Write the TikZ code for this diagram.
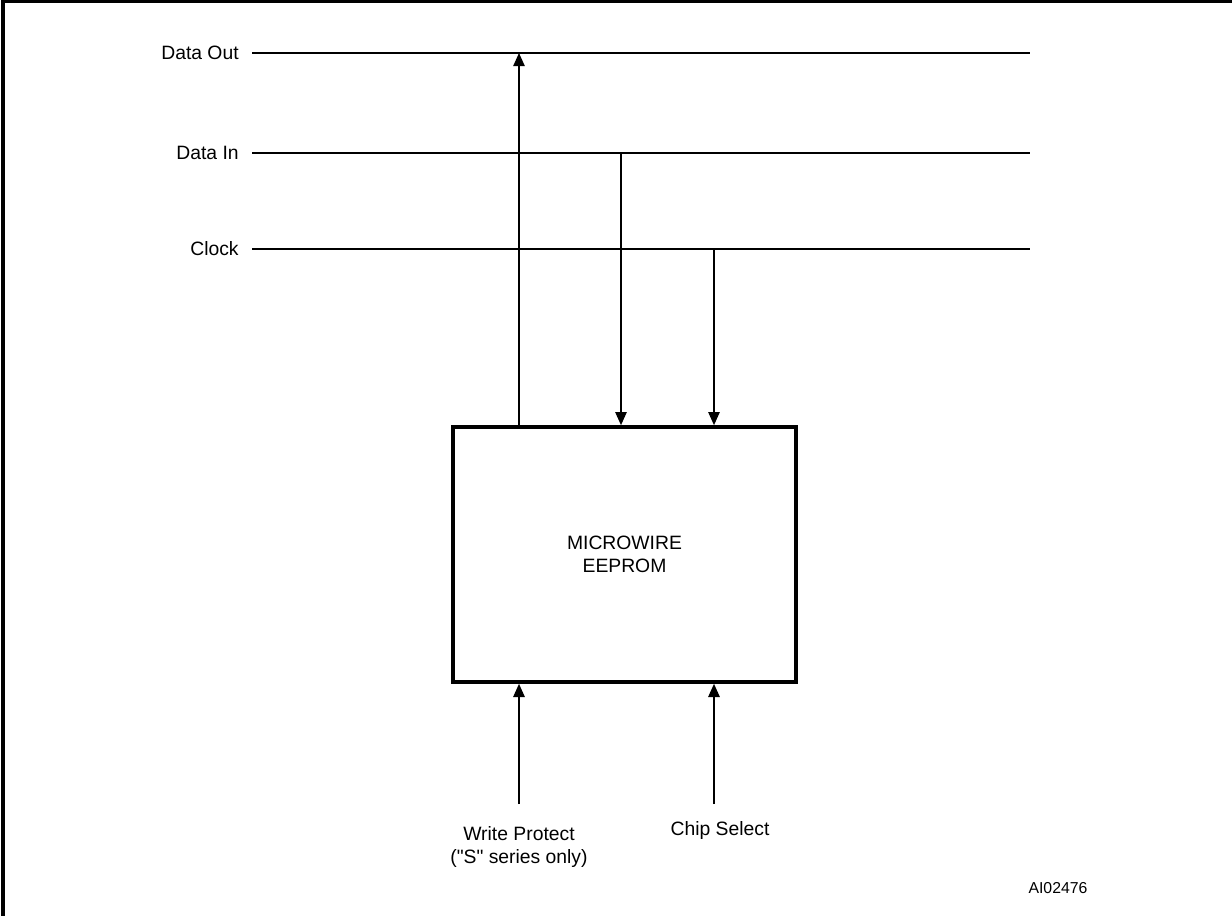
\documentclass[tikz,border=0pt]{standalone}
\usepackage{fontspec}
\setmainfont{Liberation Sans}
\usetikzlibrary{arrows.meta}
\begin{document}
\begin{tikzpicture}[x=0.02cm, y=-0.02cm, font=\fontsize{11}{13}\selectfont,
    wire/.style={line width=0.9pt},
    tip/.style={wire, -{Triangle[length=7.5pt,width=6.5pt]}},
    chip/.style={draw, line width=2.1pt, minimum width=6.86cm, minimum height=5.1cm, align=center},
    lbl/.style={anchor=east, inner sep=0pt}]
    \useasboundingbox (0,0) rectangle (1232,916);
    % frame
    \draw[line width=2.1pt] (3,916) -- (3,1.5) -- (1232,1.5);
    % bus lines
    \node[lbl] (dout) at (239,53) {Data Out};
    \node[lbl] (din) at (239,153) {Data In};
    \node[lbl] (clk) at (239,249) {Clock};
    \coordinate (doutR) at (1030,53);
    \coordinate (dinR) at (1030,153);
    \coordinate (clkR) at (1030,249);
    \draw[wire] ([xshift=7.4pt]dout.east) -- (doutR);
    \draw[wire] ([xshift=7.4pt]din.east) -- (dinR);
    \draw[wire] ([xshift=7.4pt]clk.east) -- (clkR);
    % taps on the bus
    \coordinate (doutT) at (519,53);
    \coordinate (dinT) at (621,153);
    \coordinate (clkT) at (714,249);
    % the chip
    \node[chip] (eeprom) at (624.5,554.5) {MICROWIRE\\EEPROM};
    \draw[tip] (eeprom.north -| doutT) -- (doutT);
    \draw[tip] (dinT) -- (eeprom.north -| dinT);
    \draw[tip] (clkT) -- (eeprom.north -| clkT);
    % inputs below
    \coordinate (wp) at (519,804);
    \coordinate (cs) at (714,804);
    \draw[tip] (wp) -- (eeprom.south -| wp);
    \draw[tip] (cs) -- (eeprom.south -| cs);
    \node[align=center, inner sep=0pt] (wpl) at (519,847) {Write Protect\\(\textquotedbl S\textquotedbl{} series only)};
    \node[inner sep=0pt] (csl) at (720,830) {Chip Select};
    \node[inner sep=0pt, font=\fontsize{9}{11}\selectfont] (ref) at (1058,888) {AI02476};
\end{tikzpicture}
\end{document}
